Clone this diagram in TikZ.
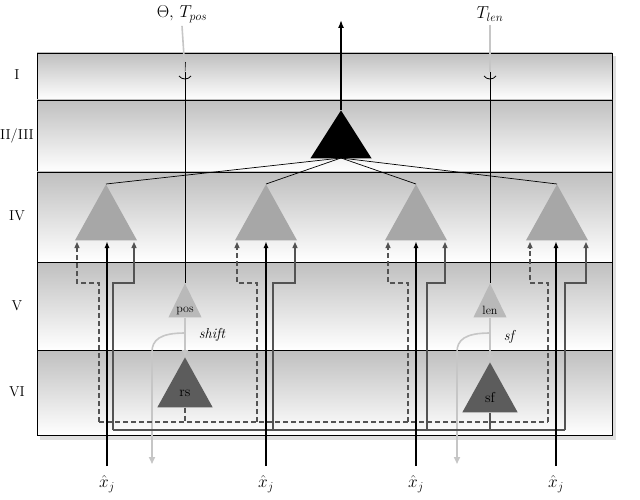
\documentclass[tikz,border=0pt]{standalone}
\usetikzlibrary{arrows.meta,shapes.geometric}
\begin{document}
\begin{tikzpicture}[x=1pt,y=-1pt,every node/.style={font=\LARGE},
 band/.style={draw=black,line width=0.6pt,top color=gray!50,bottom color=white},
 gtri/.style={draw=none,fill=gray!85!black!60,isosceles triangle,isosceles triangle apex angle=58,shape border rotate=90,minimum height=56pt,inner sep=0pt,anchor=apex},
 ptri/.style={isosceles triangle,isosceles triangle apex angle=52,shape border rotate=90,inner sep=0pt,anchor=apex,font=\large},
 lvl/.style={font=\Large},
 xin/.style={-{Latex[length=7pt,width=5pt]},line width=1.6pt},
 solidg/.style={-{Triangle[length=6pt,width=5pt]},draw=gray!65!black,line width=1.3pt},
 dashg/.style={-{Triangle[length=6pt,width=5pt]},draw=gray!65!black,line width=1.3pt,dash pattern=on 5pt off 3pt},
 lg/.style={draw=gray!45,line width=1.6pt,-{Triangle[length=7pt,width=6pt]}}]
\useasboundingbox (0,0) rectangle (640,500);
\fill[gray!25] (40,56) rectangle (616,440);
\draw[band] (37,53) rectangle (612,100);
\draw[band] (37,100) rectangle (612,172);
\draw[band] (37,172) rectangle (612,262);
\draw[band] (37,262) rectangle (612,350);
\draw[band] (37,350) rectangle (612,435);
\node[lvl] at (17,75) {I};
\node[lvl] at (17,136) {II/III};
\node[lvl] at (17,216) {IV};
\node[lvl] at (17,306) {V};
\node[lvl] at (17,392) {VI};
% top triangle
\node[gtri,fill=black,minimum height=48pt,isosceles triangle apex angle=65] (top) at (341,110) {};
\coordinate (out) at (341,20);
\draw[-{Latex[length=8pt,width=6pt]},line width=1.5pt] (top.apex) -- (out);
% gray triangles
\foreach \n/\x in {a/106,b/266,c/416,d/557}{
 \node[gtri] (\n) at (\x,184) {};
 \draw[line width=0.7pt] (341,158) -- (\n.apex);
}
% pos/len and rs/sf
\node[ptri,fill=gray!55,minimum height=34pt] (pos) at (185,283) {\raisebox{-3pt}{pos}};
\node[ptri,fill=gray!55,minimum height=34pt] (len) at (490,283) {\raisebox{-3pt}{len}};
\node[ptri,fill=gray!40!black!80,minimum height=50pt,font=\Large,isosceles triangle apex angle=58] (rs) at (185,357) {\raisebox{-6pt}{rs}};
\node[ptri,fill=gray!40!black!80,minimum height=50pt,font=\Large,isosceles triangle apex angle=58] (sf) at (490,362) {\raisebox{-6pt}{sf}};
\draw[line width=0.7pt] (185,62) -- (pos.apex);
\draw[line width=0.7pt] (490,62) -- (len.apex);
% parameter inputs
\node (th) at (182,14) {$\Theta,\,T_{pos}$};
\node (tl) at (490,14) {$T_{len}$};
\draw[draw=gray!45,line width=1.6pt] (th.south) -- (185,72);
\draw[draw=gray!45,line width=1.6pt] (tl.south) -- (490,72);
\draw[line width=0.8pt] (179,76) .. controls (182,80) and (188,80) .. (191,76);
\draw[line width=0.8pt] (484,76) .. controls (487,80) and (493,80) .. (496,76);
% shift/sf arrows
\draw[lg] (185,318) -- (rs.apex);
\draw[lg] (490,318) -- (sf.apex);
\draw[lg] (185,333) .. controls (160,333) and (152,340) .. (152,352) -- (152,464);
\draw[lg] (490,333) .. controls (465,333) and (457,340) .. (457,352) -- (457,464);
\node[font=\Large\itshape] at (212,335) {shift};
\node[font=\Large\itshape] at (509,337) {sf};
% distribution lines
\draw[gray!65!black,line width=1.3pt,dash pattern=on 5pt off 3pt] (rs.south) -- (185,422);
\draw[gray!65!black,line width=1.3pt] (sf.south) -- (490,430);
\draw[gray!65!black,line width=1.3pt,dash pattern=on 5pt off 3pt] (99,422) -- (548,422);
\draw[gray!65!black,line width=1.3pt] (113,430) -- (565,430);
\foreach \n/\dx/\dl/\sx/\sr in {a/99/77/113/134,b/257/237/273/295,c/408/388/427/445,d/548/530/565/586}{
 \draw[dashg] (\dx,422) -- (\dx,283) -- (\dl,283) -- (\dl,242);
 \draw[solidg] (\sx,430) -- (\sx,283) -- (\sr,283) -- (\sr,242);
}
% inputs
\foreach \n/\x in {a/107,b/266,c/416,d/556}{
 \node (x\n) at (\x,484) {$\hat{x}_j$};
 \draw[xin] (\x,466) -- (\x,241);
}
\end{tikzpicture}
\end{document}
